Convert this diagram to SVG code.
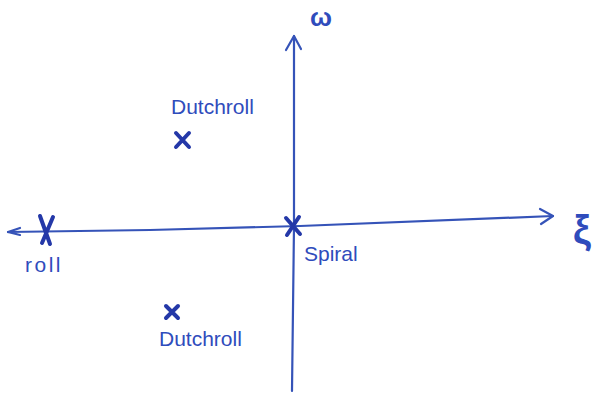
<svg xmlns="http://www.w3.org/2000/svg" width="594" height="397" viewBox="0 0 594 397">
<style>
.ax{stroke:#3553b8;stroke-width:2.2;fill:none;stroke-linecap:round;stroke-linejoin:round}
.x{stroke:#2438a8;stroke-width:4;fill:none;stroke-linecap:round}
.t{font-family:"Liberation Sans",Arial,sans-serif;fill:#2f4cbc;font-size:21px}
</style>
<rect width="594" height="397" fill="#fff"/>
<g id="connectors">
<path class="ax" d="M8 232 L150 230 L300 226 L553 216"/>
<path class="ax" d="M540 209 L553 216 L541 224"/>
<path class="ax" d="M292 391 L294 226 L294 36"/>
<path class="ax" d="M286 50 L294 36 L301 49"/>
<path class="ax" d="M8 232 L20 228 M8 232 L20 235"/>
</g>
<g id="roll"><path class="x" d="M40 216 L50 244 M53 217 L42 243"/><text class="t" x="25" y="272" letter-spacing="2.5">roll</text></g>
<g id="spiral"><path class="x" d="M286 218 L300 234 M299 217 L287 235"/><text class="t" x="304" y="261">Spiral</text></g>
<g id="dutch1"><path class="x" d="M176 133 L189 147 M189 133 L176 147"/><text class="t" x="171" y="114">Dutchroll</text></g>
<g id="dutch2"><path class="x" d="M166 306 L178 318 M178 306 L166 318"/><text class="t" x="159" y="346">Dutchroll</text></g>
<text class="t" x="310" y="26" style="font-size:26px;font-weight:bold">ω</text>
<text class="t" x="573" y="244" style="font-size:40px;font-weight:bold">ξ</text>
</svg>
